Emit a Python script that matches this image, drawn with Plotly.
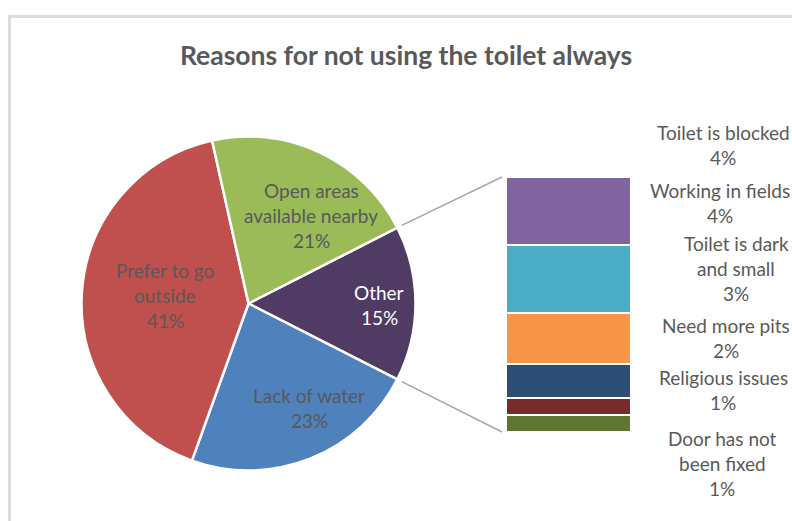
import math
import plotly.graph_objects as go

# Main pie: share of respondents by reason
pie_labels = ["Other", "Lack of water", "Prefer to go outside", "Open areas available nearby"]
pie_values = [15, 23, 41, 21]
pie_colors = ["#4f3b63", "#4f81bd", "#c0504d", "#9bbb59"]

# Breakdown of the "Other" slice, top to bottom
sub_labels = ["Toilet is blocked", "Working in fields", "Toilet is dark and small",
              "Need more pits", "Religious issues", "Door has not been fixed"]
sub_values = [4, 4, 3, 2, 1, 1]
sub_colors = ["#8064a2", "#4bacc6", "#f79646", "#2c4e75", "#772b2a", "#5f7531"]

TITLE = "Reasons for not using the toilet always"

W, H = 792, 521
FONT = "Lato"
GREY = "#595959"
BODY = 19


def px(x):
    return x / W


def py(y):
    return 1 - y / H


# pie geometry (pixels)
cx, cy, r = 248.5, 303.5, 167
# bar geometry (pixels)
bx0, bx1, by0, by1 = 506, 631, 177, 432

fig = go.Figure()

half = pie_values[0] / 100 * 180  # half-angle of the "Other" slice
fig.add_trace(go.Pie(
    labels=pie_labels, values=pie_values, sort=False, direction="clockwise",
    rotation=90 - half,
    marker=dict(colors=pie_colors, line=dict(color="white", width=2.5)),
    textinfo="none", hoverinfo="label+percent", showlegend=False,
    domain=dict(x=[px(cx - r), px(cx + r)], y=[py(cy + r), py(cy - r)]),
))

# stacked column for the "Other" breakdown (first trace sits at the bottom)
for lab, val, col in reversed(list(zip(sub_labels, sub_values, sub_colors))):
    fig.add_trace(go.Bar(
        x=[0], y=[val], name=lab, width=1,
        marker=dict(color=col, line=dict(color="white", width=2)),
        showlegend=False, hovertemplate=lab + ": %{y}%<extra></extra>",
    ))

total_other = sum(sub_values)

annotations = []


def label(lines, x, y, color=GREY, size=BODY, step=25):
    n = len(lines)
    for i, t in enumerate(lines):
        yy = y + (i - (n - 1) / 2) * step
        annotations.append(dict(
            text=t, x=px(x), y=py(yy), xref="paper", yref="paper",
            showarrow=False, xanchor="center", yanchor="middle",
            font=dict(family=FONT, size=size, color=color),
        ))


# pie slice labels
label(["Open areas", "available nearby", f"{pie_values[3]}%"], 311, 215)
label(["Prefer to go", "outside", f"{pie_values[2]}%"], 165, 295)
label(["Other", f"{pie_values[0]}%"], 379, 305, color="white")
label(["Lack of water", f"{pie_values[1]}%"], 309, 408)

# breakdown labels
label(["Toilet is blocked", f"{sub_values[0]}%"], 723, 145)
label(["Working in fields", f"{sub_values[1]}%"], 720, 203)
label(["Toilet is dark", "and small", f"{sub_values[2]}%"], 736, 268)
label(["Need more pits", f"{sub_values[3]}%"], 726, 338)
label(["Religious issues", f"{sub_values[4]}%"], 723, 390)
label(["Door has not", "been fixed", f"{sub_values[5]}%"], 722, 463)

# connector lines from the "Other" slice edges to the column corners
a = math.radians(half)
rr = r + 5
shapes = [
    dict(type="line", xref="paper", yref="paper",
         x0=px(cx + rr * math.cos(a)), y0=py(cy - rr * math.sin(a)),
         x1=px(bx0 - 4), y1=py(by0), line=dict(color="#a6a6a6", width=1.5)),
    dict(type="line", xref="paper", yref="paper",
         x0=px(cx + rr * math.cos(a)), y0=py(cy + rr * math.sin(a)),
         x1=px(bx0 - 4), y1=py(by1), line=dict(color="#a6a6a6", width=1.5)),
    # chart-area frame
    dict(type="rect", xref="paper", yref="paper",
         x0=px(9.5), y0=py(16.5), x1=px(W + 10), y1=py(H + 10),
         line=dict(color="#dcdcdc", width=3), layer="below"),
]

fig.update_layout(
    width=W, height=H, margin=dict(l=0, r=0, t=0, b=0),
    paper_bgcolor="white", plot_bgcolor="rgba(0,0,0,0)",
    barmode="stack", bargap=0,
    title=dict(text=f"<b>{TITLE}</b>", x=px(406), y=py(56), xanchor="center",
               yanchor="middle", font=dict(family=FONT, size=26.5, color=GREY)),
    xaxis=dict(domain=[px(bx0), px(bx1)], range=[-0.5, 0.5], visible=False, fixedrange=True),
    yaxis=dict(domain=[py(by1), py(by0)], range=[0, total_other], visible=False, fixedrange=True),
    annotations=annotations, shapes=shapes,
)

fig.write_html("out.html")
